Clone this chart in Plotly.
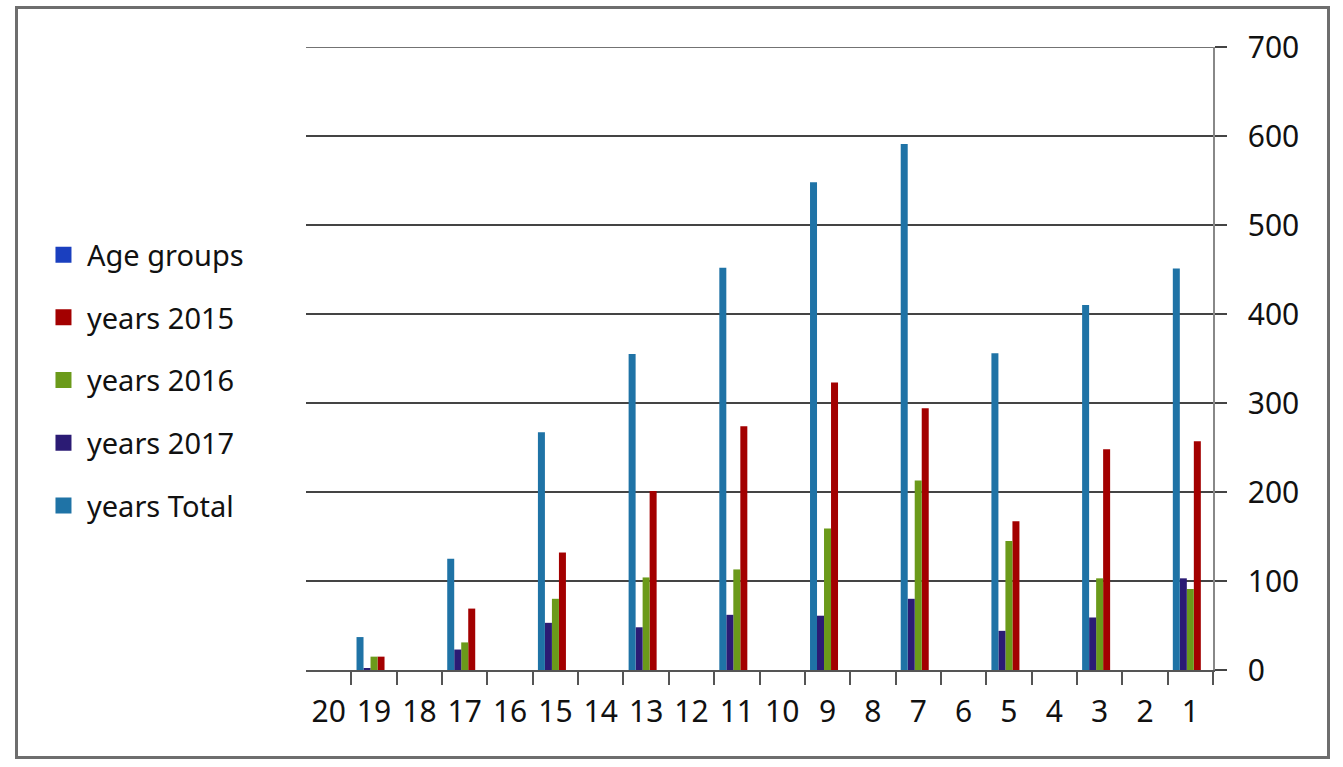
import plotly.graph_objects as go

categories = [str(i) for i in range(1, 21)]
age_groups = [0, None, 0, None, 0, None, 0, None, 0, None, 0, None, 0, None, 0, None, 0, None, 0, None]
y2015 = [257, None, 248, None, 167, None, 294, None, 323, None, 274, None, 201, None, 132, None, 69, None, 15, None]
y2016 = [91, None, 103, None, 145, None, 213, None, 159, None, 113, None, 104, None, 80, None, 31, None, 15, None]
y2017 = [103, None, 59, None, 44, None, 80, None, 61, None, 62, None, 48, None, 53, None, 23, None, 2, None]
total = [451, None, 410, None, 356, None, 591, None, 548, None, 452, None, 355, None, 267, None, 125, None, 37, None]

series = [
    ("Age groups", age_groups, "#1A3FBF"),
    ("years 2015", y2015, "#A30000"),
    ("years 2016", y2016, "#6B9A1A"),
    ("years 2017", y2017, "#2B1B74"),
    ("years Total", total, "#1F73A6"),
]

fig = go.Figure()
for name, vals, col in series:
    fig.add_trace(go.Bar(x=categories, y=vals, name=name, marker_color=col,
                         marker_line_width=0, showlegend=False))
for name, vals, col in series:
    fig.add_trace(go.Scatter(x=[None], y=[None], mode="markers", name=name,
                             marker=dict(symbol="square", size=18, color=col),
                             legendgroup=name, showlegend=True))

fig.update_layout(
    width=1343, height=767,
    margin=dict(l=306, r=130, t=47, b=97, autoexpand=False),
    paper_bgcolor="white", plot_bgcolor="white",
    barmode="group", bargap=0.228, bargroupgap=0,
    font=dict(family="Noto Sans", color="#111111"),
    legend=dict(x=-0.2933, xanchor="left", y=0.465, yanchor="middle",
                font=dict(size=29, family="Noto Sans"), tracegroupgap=22,
                itemwidth=37, bgcolor="rgba(0,0,0,0)"),
    xaxis=dict(type="category", autorange="reversed", tickson="boundaries",
               ticks="outside", ticklen=13, tickcolor="#555555", tickwidth=1.5,
               showline=True, linecolor="#555555", linewidth=1.5, automargin=False,
               tickangle=0, ticklabelstandoff=14, showgrid=False,
               tickfont=dict(size=30, family="Noto Sans")),
    yaxis=dict(side="right", range=[0, 700], dtick=100, showgrid=True,
               gridcolor="#444444", gridwidth=1.5, zeroline=False, automargin=False,
               showline=True, linecolor="#888888", linewidth=1.5,
               ticks="outside", ticklen=12, tickcolor="#444444", tickwidth=1.5,
               ticklabelstandoff=15, tickfont=dict(size=30, family="Noto Sans")),
    shapes=[
        dict(type="line", xref="paper", yref="y", x0=0, x1=1, y0=700, y1=700,
             line=dict(color="#444444", width=1.5)),
        dict(type="rect", xref="paper", yref="paper",
             x0=(16.5 - 306) / 907, x1=(1328.5 - 306) / 907,
             y0=(670 - 757.5) / 623, y1=(670 - 7.5) / 623,
             line=dict(color="#6E6E6E", width=3), fillcolor="rgba(0,0,0,0)"),
    ],
)

fig.write_html("out.html", config={"displayModeBar": False},
               post_script="document.body.style.margin='0px';")
